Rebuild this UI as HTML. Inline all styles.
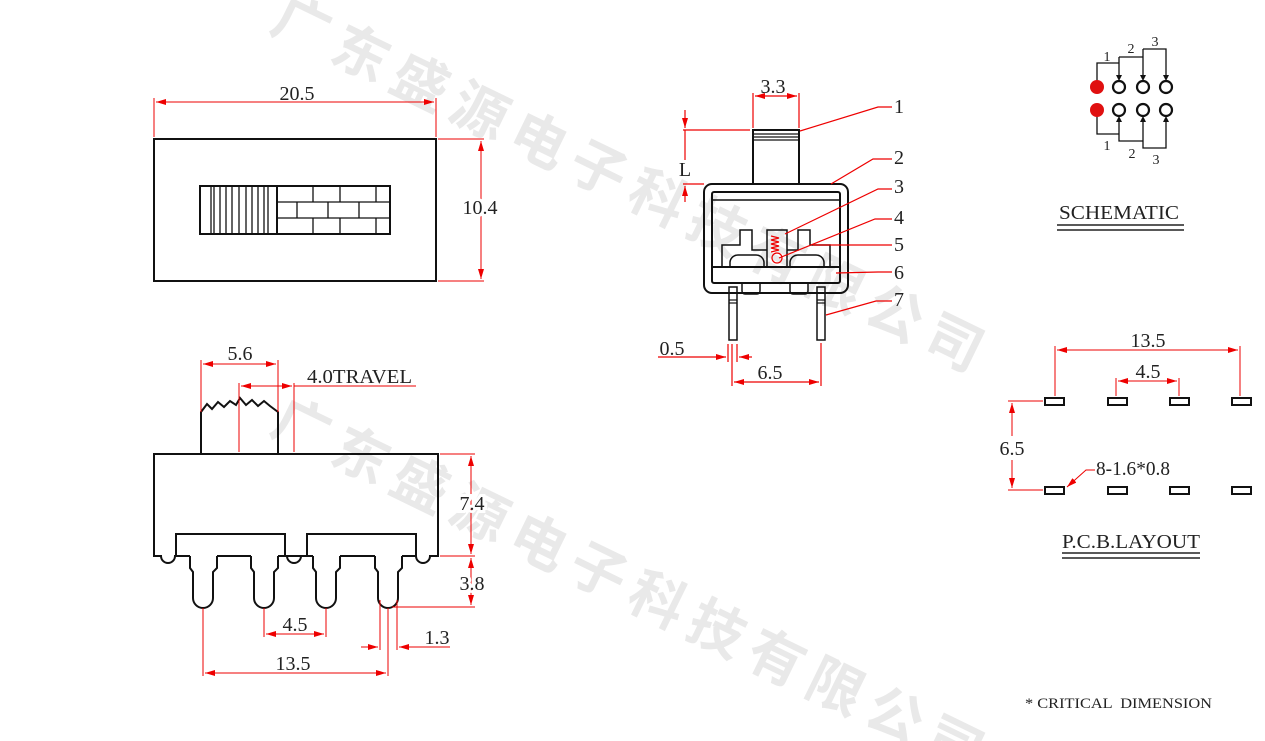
<!DOCTYPE html>
<html><head><meta charset="utf-8"><style>
html,body{margin:0;padding:0;background:#fff;width:1265px;height:741px;overflow:hidden;}
svg{display:block;}
text{font-family:"Liberation Serif",serif;fill:#222;}
.wm{font-family:"Liberation Sans","Noto Sans CJK SC",sans-serif;font-weight:bold;fill:#e9e9e9;font-size:56px;}
</style></head><body>
<svg width="1265" height="741" viewBox="0 0 1265 741" xmlns="http://www.w3.org/2000/svg">
<defs>
<marker id="a" viewBox="0 0 10 6" refX="10" refY="3" markerWidth="10" markerHeight="6" orient="auto-start-reverse" markerUnits="userSpaceOnUse"><path d="M0,0 L10,3 L0,6 z" fill="#e00"/></marker>
</defs>
<!-- watermarks -->
<text class="wm" transform="translate(268,30) rotate(26)" letter-spacing="10">广东盛源电子科技有限公司</text>
<text class="wm" transform="translate(268,432) rotate(26)" letter-spacing="10">广东盛源电子科技有限公司</text>

<g fill="none" stroke="#111" stroke-width="2">
<rect x="154" y="139" width="282" height="142"/>
<rect x="200" y="186" width="190" height="48"/>
<line x1="277" y1="186" x2="277" y2="234"/>
</g>
<g stroke="#111" stroke-width="1.3">
<line x1="211" y1="186" x2="211" y2="234"/><line x1="214" y1="186" x2="214" y2="234"/>
<line x1="220" y1="186" x2="220" y2="234"/><line x1="226" y1="186" x2="226" y2="234"/>
<line x1="232" y1="186" x2="232" y2="234"/><line x1="239" y1="186" x2="239" y2="234"/>
<line x1="246" y1="186" x2="246" y2="234"/><line x1="252" y1="186" x2="252" y2="234"/>
<line x1="258" y1="186" x2="258" y2="234"/><line x1="264" y1="186" x2="264" y2="234"/>
<line x1="268" y1="186" x2="268" y2="234"/>
<line x1="277" y1="202" x2="390" y2="202"/><line x1="277" y1="218" x2="390" y2="218"/>
<line x1="313" y1="186" x2="313" y2="202"/><line x1="340" y1="186" x2="340" y2="202"/><line x1="376" y1="186" x2="376" y2="202"/>
<line x1="297" y1="202" x2="297" y2="218"/><line x1="328" y1="202" x2="328" y2="218"/><line x1="359" y1="202" x2="359" y2="218"/>
<line x1="313" y1="218" x2="313" y2="234"/><line x1="340" y1="218" x2="340" y2="234"/><line x1="376" y1="218" x2="376" y2="234"/>
</g>
<g stroke="#e00" stroke-width="1" fill="none">
<line x1="154" y1="98" x2="154" y2="137"/><line x1="436" y1="98" x2="436" y2="137"/>
<line x1="156" y1="102" x2="434" y2="102" marker-start="url(#a)" marker-end="url(#a)"/>
<line x1="438" y1="139" x2="484" y2="139"/><line x1="438" y1="281" x2="484" y2="281"/>
<line x1="481" y1="141" x2="481" y2="279" marker-start="url(#a)" marker-end="url(#a)"/>
</g>
<text x="297" y="100" font-size="20" text-anchor="middle">20.5</text>
<text x="480" y="214" font-size="20" text-anchor="middle" style="paint-order:stroke" stroke="#fff" stroke-width="6">10.4</text>

<g fill="none" stroke="#111" stroke-width="2">
<path d="M201,454 V412 L207,404 L212,409 L218,402 L224,407 L230,401 L236,405 L240,398 L246,405 L252,400 L258,406 L264,401 L270,406 L278,412 V454"/>
<path d="M154,454 H438 V556 H430 A7,7 0 0 1 416,556 V534 H307 V556 H301 A7,7 0 0 1 287,556 H285 V534 H176 V556 H175 A7,7 0 0 1 161,556 H154 Z"/>
<path d="M285,556 H307"/>
<path d="M176,556 H190 M217,556 H251 M278,556 H285 M307,556 H313 M340,556 H375 M402,556 H416"/>
</g>
<g fill="none" stroke="#111" stroke-width="2">
<path d="M190,556 V568 L193,572 V598 A10,10 0 0 0 213,598 V572 L217,568 V556"/>
<path d="M251,556 V568 L254,572 V598 A10,10 0 0 0 274,598 V572 L278,568 V556"/>
<path d="M313,556 V568 L316,572 V598 A10,10 0 0 0 336,598 V572 L340,568 V556"/>
<path d="M375,556 V568 L378,572 V598 A10,10 0 0 0 398,598 V572 L402,568 V556"/>
</g>
<g stroke="#e00" stroke-width="1" fill="none">
<line x1="201" y1="360" x2="201" y2="412"/><line x1="278" y1="360" x2="278" y2="412"/>
<line x1="203" y1="364" x2="276" y2="364" marker-start="url(#a)" marker-end="url(#a)"/>
<line x1="239" y1="383" x2="239" y2="452"/><line x1="294" y1="383" x2="294" y2="452"/>
<line x1="241" y1="386" x2="292" y2="386" marker-start="url(#a)" marker-end="url(#a)"/>
<line x1="294" y1="386" x2="416" y2="386"/>
<line x1="440" y1="454" x2="475" y2="454"/><line x1="440" y1="556" x2="475" y2="556"/>
<line x1="471" y1="456" x2="471" y2="554" marker-start="url(#a)" marker-end="url(#a)"/>
<line x1="471" y1="558" x2="471" y2="605" marker-start="url(#a)" marker-end="url(#a)"/>
<line x1="392" y1="607" x2="475" y2="607"/>
<line x1="203" y1="608" x2="203" y2="676"/><line x1="264" y1="608" x2="264" y2="637"/>
<line x1="326" y1="608" x2="326" y2="637"/><line x1="388" y1="608" x2="388" y2="676"/>
<line x1="266" y1="634" x2="324" y2="634" marker-start="url(#a)" marker-end="url(#a)"/>
<line x1="205" y1="673" x2="386" y2="673" marker-start="url(#a)" marker-end="url(#a)"/>
<line x1="380" y1="600" x2="380" y2="650"/><line x1="397" y1="600" x2="397" y2="650"/>
<line x1="361" y1="647" x2="378" y2="647" marker-end="url(#a)"/>
<line x1="450" y1="647" x2="399" y2="647" marker-end="url(#a)"/>
</g>
<text x="240" y="360" font-size="20" text-anchor="middle">5.6</text>
<text x="307" y="383" font-size="20" textLength="105" lengthAdjust="spacingAndGlyphs">4.0TRAVEL</text>
<text x="472" y="510" font-size="20" text-anchor="middle" style="paint-order:stroke" stroke="#fff" stroke-width="6">7.4</text>
<text x="472" y="590" font-size="20" text-anchor="middle" style="paint-order:stroke" stroke="#fff" stroke-width="6">3.8</text>
<text x="295" y="631" font-size="20" text-anchor="middle">4.5</text>
<text x="437" y="644" font-size="20" text-anchor="middle">1.3</text>
<text x="293" y="670" font-size="20" text-anchor="middle">13.5</text>

<g fill="none" stroke="#111" stroke-width="2">
<rect x="704" y="184" width="144" height="109" rx="8"/>
<rect x="712" y="192" width="128" height="91" rx="2"/>
<rect x="753" y="130" width="46" height="54"/>
<line x1="712" y1="267" x2="840" y2="267"/>
<line x1="712" y1="200" x2="840" y2="200" stroke-width="1.5"/>
<path d="M722,267 V245 H740 V230 H752 V250 H767 M787,250 H798 V230 H810 V245 H830 V267" stroke-width="1.5"/>
<rect x="767" y="230" width="20" height="37" stroke-width="1.5"/>
<path d="M730,267 V262 A8,8 0 0 1 738,255 H756 A8,8 0 0 1 764,262 V267" stroke-width="1.5"/>
<path d="M790,267 V262 A8,8 0 0 1 798,255 H816 A8,8 0 0 1 824,262 V267" stroke-width="1.5"/>
<path d="M742,283 V291 A3,3 0 0 0 745,294 H757 A3,3 0 0 0 760,291 V283" stroke-width="1.5"/>
<path d="M790,283 V291 A3,3 0 0 0 793,294 H805 A3,3 0 0 0 808,291 V283" stroke-width="1.5"/>
<rect x="729" y="287" width="8" height="53" stroke-width="1.5"/>
<rect x="817" y="287" width="8" height="53" stroke-width="1.5"/>
</g>
<g stroke="#111" stroke-width="1.2">
<line x1="753" y1="134" x2="799" y2="134"/><line x1="753" y1="137" x2="799" y2="137"/><line x1="753" y1="140" x2="799" y2="140"/>
<line x1="729" y1="300" x2="737" y2="300"/><line x1="817" y1="300" x2="825" y2="300"/>
<line x1="729" y1="303" x2="737" y2="303"/><line x1="817" y1="303" x2="825" y2="303"/>
</g>
<g stroke="#e00" stroke-width="1.2" fill="none">
<path d="M771,236 l8,2 l-8,2 l8,2 l-8,2 l8,2 l-8,2 l8,2 l-8,2"/>
<circle cx="777" cy="258" r="5"/>
<line x1="753" y1="93" x2="753" y2="128"/><line x1="799" y1="93" x2="799" y2="128"/>
<line x1="755" y1="96" x2="797" y2="96" marker-start="url(#a)" marker-end="url(#a)"/>
<line x1="683" y1="130" x2="750" y2="130"/><line x1="683" y1="184" x2="704" y2="184"/>
<line x1="685" y1="110" x2="685" y2="128" marker-end="url(#a)"/>
<line x1="685" y1="202" x2="685" y2="186" marker-end="url(#a)"/>
<line x1="685" y1="130" x2="685" y2="160"/>
<path d="M800,131 L878,107 H892"/>
<path d="M831,184 L873,159 H892"/>
<path d="M785,234 L878,189 H892"/>
<path d="M779,258 L875,219 H892"/>
<path d="M813,245 H892"/>
<path d="M836,273 L878,272 H892"/>
<path d="M826,315 L876,301 H892"/>
<line x1="728" y1="344" x2="728" y2="362"/><line x1="732" y1="344" x2="732" y2="386"/><line x1="737" y1="344" x2="737" y2="362"/>
<line x1="821" y1="343" x2="821" y2="386"/>
<line x1="658" y1="357" x2="726" y2="357" marker-end="url(#a)"/>
<line x1="752" y1="357" x2="739" y2="357" marker-end="url(#a)"/>
<line x1="734" y1="382" x2="819" y2="382" marker-start="url(#a)" marker-end="url(#a)"/>
</g>
<text x="773" y="93" font-size="20" text-anchor="middle">3.3</text>
<text x="685" y="176" font-size="20" text-anchor="middle" style="paint-order:stroke" stroke="#fff" stroke-width="5">L</text>
<g font-size="20" text-anchor="middle">
<text x="899" y="113">1</text><text x="899" y="164">2</text><text x="899" y="193">3</text>
<text x="899" y="224">4</text><text x="899" y="251">5</text><text x="899" y="279">6</text><text x="899" y="306">7</text>
</g>
<text x="672" y="355" font-size="20" text-anchor="middle">0.5</text>
<text x="770" y="379" font-size="20" text-anchor="middle">6.5</text>

<g stroke="#111" stroke-width="1.3" fill="none">
<path d="M1097,81 V63 H1119"/><path d="M1119,57 V79"/>
<path d="M1119,57 H1143 V79 M1143,49 H1166 V79 M1143,57 V49"/>
<path d="M1097,116 V134 H1119 M1119,118 V141 H1143 V118 M1143,141 V148 H1166 V118"/>
</g>
<g fill="#111">
<path d="M1116,75 L1119,81 L1122,75 z"/><path d="M1140,75 L1143,81 L1146,75 z"/><path d="M1163,75 L1166,81 L1169,75 z"/>
<path d="M1116,122 L1119,116 L1122,122 z"/><path d="M1140,122 L1143,116 L1146,122 z"/><path d="M1163,122 L1166,116 L1169,122 z"/>
</g>
<g stroke="#111" stroke-width="2.2" fill="#fff">
<circle cx="1119" cy="87" r="6"/><circle cx="1143" cy="87" r="6"/><circle cx="1166" cy="87" r="6"/>
<circle cx="1119" cy="110" r="6"/><circle cx="1143" cy="110" r="6"/><circle cx="1166" cy="110" r="6"/>
</g>
<circle cx="1097" cy="87" r="7" fill="#e01010"/><circle cx="1097" cy="110" r="7" fill="#e01010"/>
<g font-size="14" text-anchor="middle">
<text x="1107" y="61">1</text><text x="1131" y="53">2</text><text x="1155" y="46">3</text>
<text x="1107" y="150">1</text><text x="1132" y="158">2</text><text x="1156" y="164">3</text>
</g>
<text x="1119" y="219" font-size="20" text-anchor="middle" textLength="120" lengthAdjust="spacingAndGlyphs">SCHEMATIC</text>
<line x1="1057" y1="225" x2="1184" y2="225" stroke="#222" stroke-width="1.5"/>
<line x1="1057" y1="230" x2="1184" y2="230" stroke="#222" stroke-width="1.5"/>

<g fill="none" stroke="#111" stroke-width="2">
<rect x="1045" y="398" width="19" height="7"/><rect x="1108" y="398" width="19" height="7"/>
<rect x="1170" y="398" width="19" height="7"/><rect x="1232" y="398" width="19" height="7"/>
<rect x="1045" y="487" width="19" height="7"/><rect x="1108" y="487" width="19" height="7"/>
<rect x="1170" y="487" width="19" height="7"/><rect x="1232" y="487" width="19" height="7"/>
</g>
<g stroke="#e00" stroke-width="1" fill="none">
<line x1="1055" y1="346" x2="1055" y2="396"/><line x1="1240" y1="346" x2="1240" y2="396"/>
<line x1="1057" y1="350" x2="1238" y2="350" marker-start="url(#a)" marker-end="url(#a)"/>
<line x1="1116" y1="378" x2="1116" y2="396"/><line x1="1179" y1="378" x2="1179" y2="396"/>
<line x1="1118" y1="381" x2="1177" y2="381" marker-start="url(#a)" marker-end="url(#a)"/>
<line x1="1008" y1="401" x2="1043" y2="401"/><line x1="1008" y1="490" x2="1043" y2="490"/>
<line x1="1012" y1="403" x2="1012" y2="436" marker-start="url(#a)"/>
<line x1="1012" y1="460" x2="1012" y2="488" marker-end="url(#a)"/>
<path d="M1095,470 H1086 L1067,487" marker-end="url(#a)"/>
</g>
<text x="1148" y="347" font-size="20" text-anchor="middle">13.5</text>
<text x="1148" y="378" font-size="20" text-anchor="middle">4.5</text>
<text x="1012" y="455" font-size="20" text-anchor="middle">6.5</text>
<text x="1096" y="475" font-size="20" textLength="74" lengthAdjust="spacingAndGlyphs">8-1.6*0.8</text>
<text x="1131" y="548" font-size="20" text-anchor="middle" textLength="138" lengthAdjust="spacingAndGlyphs">P.C.B.LAYOUT</text>
<line x1="1062" y1="553" x2="1200" y2="553" stroke="#222" stroke-width="1.5"/>
<line x1="1062" y1="558" x2="1200" y2="558" stroke="#222" stroke-width="1.5"/>

<text x="1025" y="708" font-size="15" textLength="187" lengthAdjust="spacingAndGlyphs" xml:space="preserve">* CRITICAL  DIMENSION</text>
</svg>
</body></html>
